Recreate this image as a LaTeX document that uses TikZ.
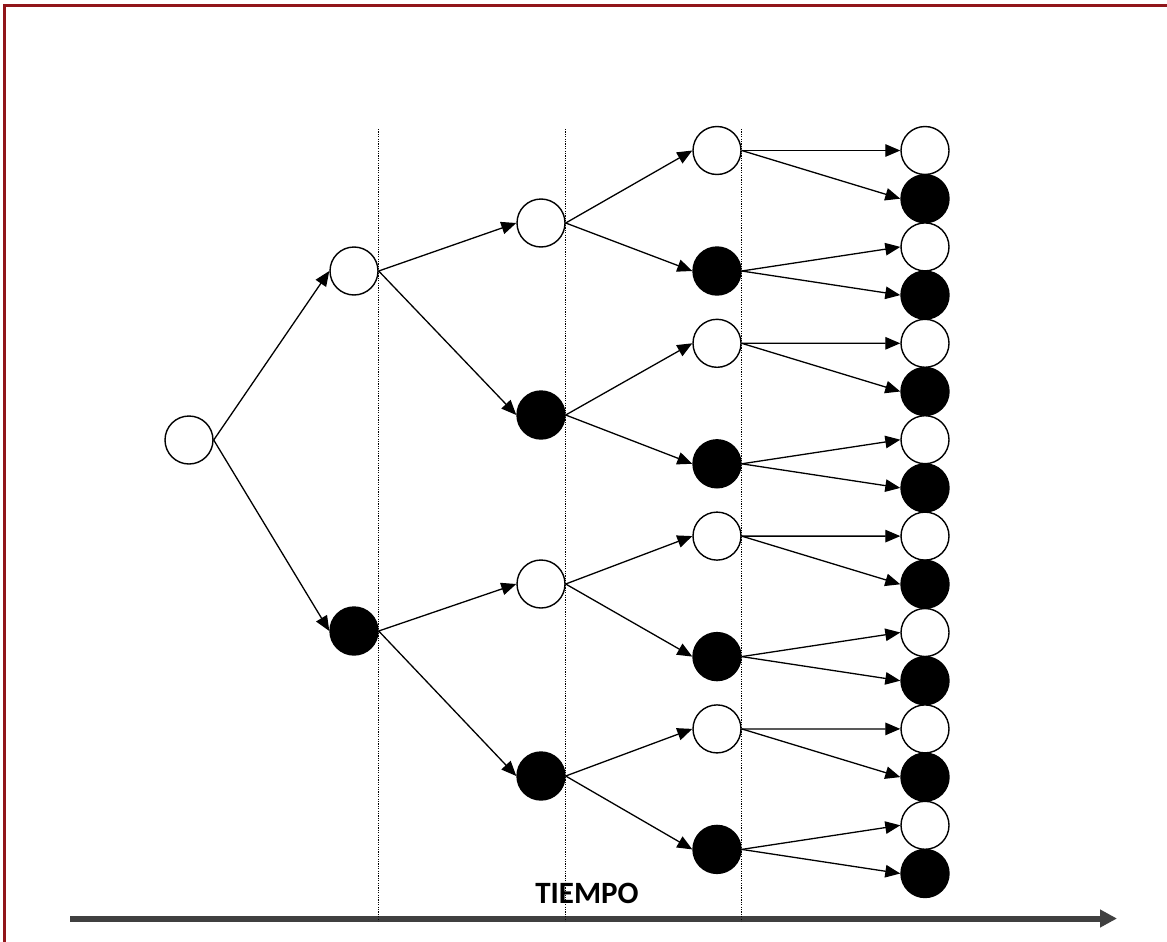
\documentclass[tikz,border=0pt]{standalone}
\usepackage{fontspec}
\setmainfont{Carlito}
\usetikzlibrary{arrows.meta}
\definecolor{framered}{RGB}{145,22,26}
\definecolor{axisgray}{RGB}{64,64,64}
\tikzset{
  state/.style={circle, draw=black, line width=1.4pt, minimum size=48pt, inner sep=0pt},
  whitestate/.style={state, fill=white},
  blackstate/.style={state, fill=black},
  branch/.style={-{Triangle[length=15pt,width=12.5pt]}, line width=1.3pt},
  divider/.style={line width=1.1pt, dash pattern=on 1.1pt off 1.3pt},
  timeaxis/.style={-{Triangle[length=17pt,width=17pt]}, line width=6pt, draw=axisgray},
  axislabel/.style={font=\bfseries\fontsize{31}{31}\selectfont, inner sep=0pt},
}
\begin{document}
\begin{tikzpicture}[x=1pt, y=-1pt]
  \useasboundingbox (0,0) rectangle (1167,942);
  % outer frame (open towards the right and bottom edges)
  \draw[framered, line width=2.6pt] (4.5,5.5) rectangle (1185,960);

  % time axis and its label
  \coordinate (t0) at (70,918.5);
  \coordinate (t1) at (1117,918.5);
  \draw[timeaxis] (t0) -- (t1);
  \node[axislabel] (tiempo) at (587,893) {TIEMPO};

  % root and first split
  \node[whitestate] (r) at (189,440) {};
  \node[whitestate] (a) at (354,271) {};
  \node[blackstate] (b) at (354,631) {};

  % second split
  \node[whitestate] (aa) at (541,223) {};
  \node[blackstate] (ab) at (541,415) {};
  \node[whitestate] (ba) at (541,584) {};
  \node[blackstate] (bb) at (541,776) {};

  % third split
  \node[whitestate] (aaa) at (717,150.5) {};
  \node[blackstate] (aab) at (717,271) {};
  \node[whitestate] (aba) at (717,343.3) {};
  \node[blackstate] (abb) at (717,463.8) {};
  \node[whitestate] (baa) at (717,536.1) {};
  \node[blackstate] (bab) at (717,656.6) {};
  \node[whitestate] (bba) at (717,728.9) {};
  \node[blackstate] (bbb) at (717,849.4) {};

  % final column of outcomes
  \foreach \p [count=\k from 0] in {aaa,aab,aba,abb,baa,bab,bba,bbb} {
    \pgfmathsetmacro{\yw}{150.5 + 96.4*\k}
    \pgfmathsetmacro{\yb}{150.5 + 96.4*\k + 48.2}
    \node[whitestate] (\p w) at (925,\yw) {};
    \node[blackstate] (\p b) at (925,\yb) {};
    \draw[branch] (\p.east) -- (\p w.west);
    \draw[branch] (\p.east) -- (\p b.west);
  }

  % branches of the earlier stages
  \draw[branch] (r.east) -- (a.west);
  \draw[branch] (r.east) -- (b.west);
  \foreach \p in {a,b,aa,ab,ba,bb} {
    \draw[branch] (\p.east) -- (\p a.west);
    \draw[branch] (\p.east) -- (\p b.west);
  }

  % dotted stage separators
  \foreach \x/\n in {378.5/1,565.5/2,741.5/3} {
    \coordinate (s\n top) at (\x,129);
    \coordinate (s\n bot) at (\x,921);
    \draw[divider] (s\n top) -- (s\n bot);
  }
\end{tikzpicture}
\end{document}
